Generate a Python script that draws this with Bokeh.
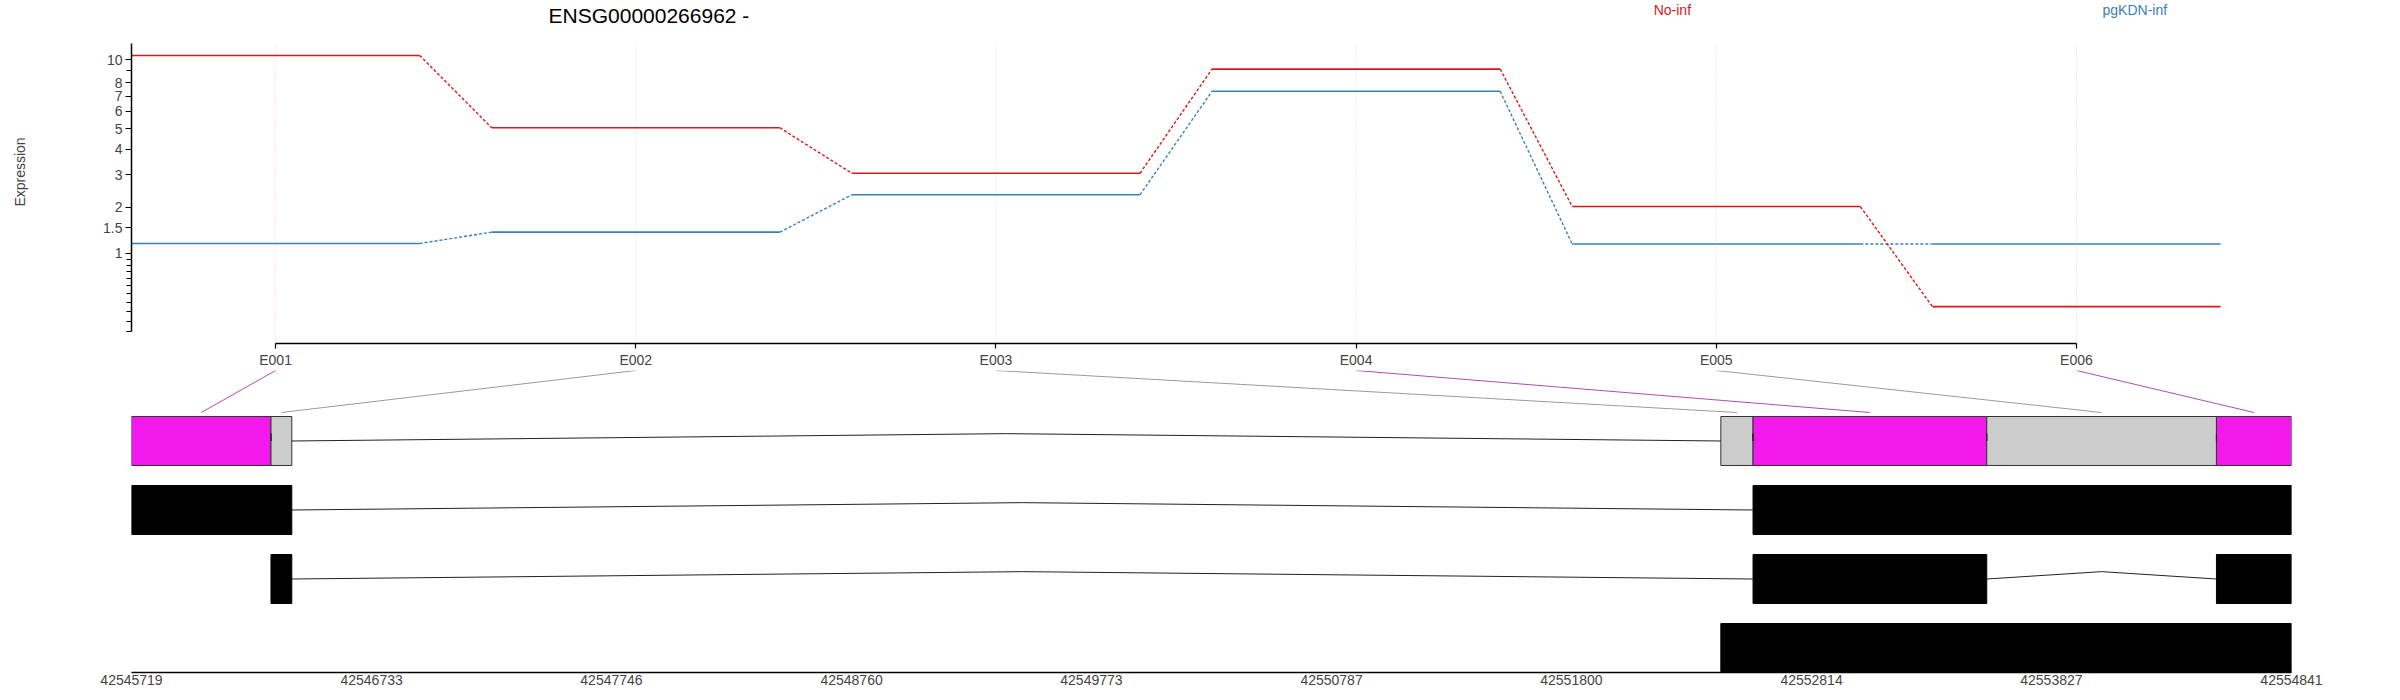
import numpy as np
from bokeh.plotting import figure
from bokeh.layouts import column
from bokeh.models import (ColumnDataSource, FixedTicker, Range1d, Label, LabelSet,
                          CustomJSTickFormatter)
from bokeh.core.properties import value
from bokeh.embed import file_html
from bokeh.resources import INLINE

# ---------------- data ----------------
gene_title = "ENSG00000266962 -"
exon_ids = ["E001", "E002", "E003", "E004", "E005", "E006"]
conditions = ["No-inf", "pgKDN-inf"]
cond_colors = ["#D7191C", "#3A80B9"]
expr_noinf = [10.45, 5.05, 3.05, 9.15, 2.02, 0.25]
expr_pgkdn = [1.18, 1.41, 2.35, 7.35, 1.17, 1.17]
significant = [True, False, False, True, False, True]

exon_start = [42545719, 42546308, 42552431, 42552567, 42553554, 42554524]
exon_end = [42546308, 42546396, 42552567, 42553554, 42554524, 42554841]

tx1_start = [42545719, 42552567]
tx1_end = [42546396, 42554841]
tx2_start = [42546308, 42552567, 42554524]
tx2_end = [42546396, 42553554, 42554841]
tx3_start = [42552431]
tx3_end = [42554841]

y_tick_values = [1, 1.5, 2, 3, 4, 5, 6, 7, 8, 10]
y_minor_values = [0, 0.1, 0.2, 0.3, 0.4, 0.5, 0.6, 0.7, 0.8, 0.9, 9]
genome_ticks = [42545719, 42546733, 42547746, 42548760, 42549773,
                42550787, 42551800, 42552814, 42553827, 42554841]

# ---------------- layout constants ----------------
FONT = "Liberation Sans"
W = 2384
LEFT = 131
RIGHT = 93
IDX_RANGE = (0.6, 6.597)
TOP_Y = (-0.0444, 1.2692)
Y_AXIS_TOP = 1.1059
GEN_RANGE = (42545719, 42554841)
ROW_Y = (3.355, -1.0217)     # bottom, top (reversed)
HALF = 0.355
CONN_BOTTOM = -0.413
PEAK = 0.1065
HALFW = 0.4

SIG_BOX = "#F219ED"
NONSIG_BOX = "#CCCCCC"
SIG_LINE = "#B04DB0"
NONSIG_LINE = "#9A9A9A"


def L(v):
    return np.log10(np.asarray(v, dtype=float) + 1.0)


n = len(exon_ids)
idx = np.arange(1, n + 1, dtype=float)

# ---------------- top: expression ----------------
p1 = figure(width=W, height=370, output_backend="svg", toolbar_location=None,
            x_range=Range1d(*IDX_RANGE), y_range=Range1d(*TOP_Y),
            min_border_left=LEFT, min_border_right=RIGHT, min_border_top=0,
            min_border_bottom=24, title=None)
p1.grid.visible = False
p1.outline_line_color = None
p1.background_fill_color = "white"

# faint vertical guide lines
vcol = [SIG_BOX if s else "#B3B3B3" for s in significant]
valpha = [0.25 if s else 0.4 for s in significant]
p1.segment(x0="x", y0="y0", x1="x", y1="y1", line_color="c", line_alpha="a",
           line_dash="1 2", line_width=1,
           source=ColumnDataSource(dict(x=idx, y0=[TOP_Y[0]] * n, y1=[Y_AXIS_TOP] * n,
                                        c=vcol, a=valpha)))

for vals, col in [(expr_pgkdn, cond_colors[1]), (expr_noinf, cond_colors[0])]:
    ly = L(vals)
    p1.segment(x0="x0", y0="y", x1="x1", y1="y", line_color=col, line_width=1.6,
               source=ColumnDataSource(dict(x0=idx - HALFW, x1=idx + HALFW, y=ly)))
    p1.segment(x0="x0", y0="y0", x1="x1", y1="y1", line_color=col, line_width=1.4,
               line_dash="3 2",
               source=ColumnDataSource(dict(x0=idx[:-1] + HALFW, y0=ly[:-1],
                                            x1=idx[1:] - HALFW, y1=ly[1:])))

# x axis (exon ids)
xa = p1.xaxis[0]
xa.ticker = FixedTicker(ticks=list(idx))
xa.major_label_overrides = {int(i): e for i, e in zip(idx, exon_ids)}
xa.bounds = (1, n)
xa.minor_tick_line_color = None
xa.major_tick_out = 5
xa.major_tick_in = 0
xa.axis_line_width = 1.5
xa.major_tick_line_width = 1.2
xa.major_label_text_font = FONT
xa.major_label_text_font_size = "14px"
xa.major_label_standoff = 3

# y axis (log10(x+1) scale)
ya = p1.yaxis[0]
tick_pos = [float(round(x, 6)) for x in L(y_tick_values)]
ya.ticker = FixedTicker(ticks=tick_pos,
                        minor_ticks=[float(round(x, 6)) for x in L(y_minor_values)])
ya.formatter = CustomJSTickFormatter(
    args=dict(vals=tick_pos, labels=[f"{v:g}" for v in y_tick_values]),
    code="""
let best = 0, bd = Infinity;
for (let i = 0; i < vals.length; i++) {
  const d = Math.abs(vals[i] - tick);
  if (d < bd) { bd = d; best = i; }
}
return labels[best];
""")
ya.bounds = (0, Y_AXIS_TOP)
ya.axis_line_width = 1.5
ya.major_tick_out = 6
ya.major_tick_in = 0
ya.minor_tick_out = 5
ya.minor_tick_in = 0
ya.major_tick_line_width = 1.2
ya.minor_tick_line_width = 1.2
ya.major_label_text_font = FONT
ya.major_label_text_font_size = "14px"
ya.major_label_standoff = 3
ya.axis_label = "Expression"
ya.axis_label_text_font = FONT
ya.axis_label_text_font_size = "14px"
ya.axis_label_text_font_style = "normal"
ya.axis_label_standoff = 72

# title and legend
p1.add_layout(Label(x=1.7578, y=1.2134, text=gene_title, text_font=FONT,
                    text_font_size="21px", text_align="left", text_baseline="middle",
                    text_color="black"))
p1.add_layout(LabelSet(x="x", y="y", text="t", text_color="c", text_font=value(FONT),
                       text_font_size=value("14px"), text_align="center",
                       text_baseline="middle",
                       source=ColumnDataSource(dict(x=[4.878, 6.162], y=[1.2331, 1.2331],
                                                    t=conditions, c=cond_colors))))

# ---------------- bottom: gene / transcript model ----------------
p2 = figure(width=W, height=324, output_backend="svg", toolbar_location=None,
            x_range=Range1d(*GEN_RANGE), y_range=Range1d(*ROW_Y),
            min_border_left=LEFT, min_border_right=RIGHT, min_border_top=0,
            min_border_bottom=22, y_axis_location=None, title=None)
p2.grid.visible = False
p2.outline_line_color = None

gspan = GEN_RANGE[1] - GEN_RANGE[0]
ispan = IDX_RANGE[1] - IDX_RANGE[0]
conn_top_x = GEN_RANGE[0] + (idx - IDX_RANGE[0]) / ispan * gspan
ex_s = np.array(exon_start, dtype=float)
ex_e = np.array(exon_end, dtype=float)
ex_mid = (ex_s + ex_e) / 2
p2.segment(x0="x0", y0="y0", x1="x1", y1="y1", line_color="c", line_width=1,
           source=ColumnDataSource(dict(x0=conn_top_x, y0=[ROW_Y[1]] * n, x1=ex_mid,
                                        y1=[CONN_BOTTOM] * n,
                                        c=[SIG_LINE if s else NONSIG_LINE for s in significant])))

rows = [(exon_start, exon_end, [SIG_BOX if s else NONSIG_BOX for s in significant], "#333333"),
        (tx1_start, tx1_end, ["black"] * len(tx1_start), "black"),
        (tx2_start, tx2_end, ["black"] * len(tx2_start), "black"),
        (tx3_start, tx3_end, ["black"] * len(tx3_start), "black")]

for r, (s, e, fc, lc) in enumerate(rows):
    s = np.array(s, dtype=float)
    e = np.array(e, dtype=float)
    p2.quad(left=s, right=e, top=[r - HALF] * len(s), bottom=[r + HALF] * len(s),
            fill_color=fc, line_color=lc, line_width=1)
    if len(s) > 1:
        a = e[:-1]
        b = s[1:]
        m = (a + b) / 2
        p2.segment(x0=np.concatenate([a, m]), y0=np.concatenate([[r] * len(a), [r - PEAK] * len(a)]),
                   x1=np.concatenate([m, b]), y1=np.concatenate([[r - PEAK] * len(a), [r] * len(a)]),
                   line_color="#222222", line_width=1)

ga = p2.xaxis[0]
ga.ticker = FixedTicker(ticks=genome_ticks)
ga.major_label_overrides = {t: str(t) for t in genome_ticks}
ga.major_tick_out = 0
ga.major_tick_in = 0
ga.minor_tick_line_color = None
ga.major_tick_line_color = None
ga.axis_line_width = 1.5
ga.major_label_text_font = FONT
ga.major_label_text_font_size = "14px"
ga.major_label_standoff = 2

layout = column(p1, p2, spacing=0)
open("out.html", "w").write(file_html(layout, INLINE))
